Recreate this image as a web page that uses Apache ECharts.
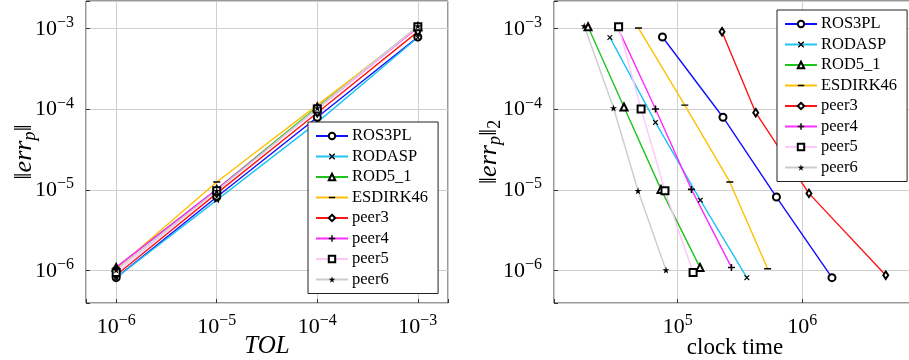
<!DOCTYPE html>
<html><head><meta charset="utf-8">
<script src="https://cdn.jsdelivr.net/npm/echarts@6/dist/echarts.min.js"></script>
<style>html,body{margin:0;padding:0;background:#fff}#c{width:909px;height:360px}</style>
</head><body><div id="c"></div>
<script>
// ---------- data ----------
const seriesNames = ['ROS3PL', 'RODASP', 'ROD5_1', 'ESDIRK46', 'peer3', 'peer4', 'peer5', 'peer6'];
const tolValues = [1e-6, 1e-5, 1e-4, 1e-3];

const errROS3PL   = [8.2e-7, 8.2e-6, 8.0e-5, 7.9e-4];
const errRODASP   = [8.2e-7, 7.5e-6, 6.9e-5, 7.8e-4];
const errROD5_1   = [1.1e-6, 1.02e-5, 1.07e-4, 1.06e-3];
const errESDIRK46 = [1.06e-6, 1.26e-5, 1.13e-4, 1.02e-3];
const errPeer3    = [8.8e-7, 9.1e-6, 9.1e-5, 9.2e-4];
const errPeer4    = [1.1e-6, 1.02e-5, 1.01e-4, 1.04e-3];
const errPeer5    = [9.5e-7, 9.8e-6, 1.01e-4, 1.06e-3];
const errPeer6    = [1.02e-6, 9.8e-6, 1.04e-4, 1.08e-3];

const timeROS3PL   = [1.73e6, 6.2e5, 2.31e5, 7.55e4];
const timeRODASP   = [3.59e5, 1.52e5, 6.64e4, 2.86e4];
const timeROD5_1   = [1.51e5, 7.35e4, 3.71e4, 1.91e4];
const timeESDIRK46 = [5.27e5, 2.62e5, 1.14e5, 4.85e4];
const timePeer3    = [4.67e6, 1.13e6, 4.23e5, 2.27e5];
const timePeer4    = [2.70e5, 1.29e5, 6.64e4, 3.30e4];
const timePeer5    = [1.33e5, 7.91e4, 5.09e4, 3.36e4];
const timePeer6    = [8.06e4, 4.81e4, 3.06e4, 1.78e4];

const tolTickExps   = [-6, -5, -4, -3];
const errTickExps   = [-6, -5, -4, -3];
const clockTickExps = [5, 6];

const errs  = [errROS3PL, errRODASP, errROD5_1, errESDIRK46, errPeer3, errPeer4, errPeer5, errPeer6];
const times = [timeROS3PL, timeRODASP, timeROD5_1, timeESDIRK46, timePeer3, timePeer4, timePeer5, timePeer6];

// ---------- styles ----------
const lineColors = ['#0f0fff', '#1ec4f2', '#1ec41e', '#ffc000', '#ff1414', '#ff2cff', '#ffc8f8', '#cccccc'];
const P_X = 'path://M0,1.5L1.5,0L5,3.5L8.5,0L10,1.5L6.5,5L10,8.5L8.5,10L5,6.5L1.5,10L0,8.5L3.5,5Z';
const P_PLUS = 'path://M3.9,0H6.1V3.9H10V6.1H6.1V10H3.9V6.1H0V3.9H3.9Z';
const P_DASH = 'path://M0,0h0.01v0.01h-0.01z M0,4h10v2h-10z M9.99,9.99h0.01v0.01h-0.01z';
const P_STAR = 'path://M5,0L6.123,3.455L9.755,3.455L6.816,5.59L7.939,9.045L5,6.91L2.061,9.045L3.184,5.59L0.245,3.455L3.877,3.455Z';
const symbols = [
  {s: 'emptyCircle', size: 7, empty: true},
  {s: P_X, size: 5.5, empty: false},
  {s: 'emptyTriangle', size: 7, empty: true},
  {s: P_DASH, size: 7, empty: false},
  {s: 'emptyDiamond', size: [5, 7.5], empty: true},
  {s: P_PLUS, size: 7, empty: false},
  {s: 'emptyRect', size: 7, empty: true},
  {s: P_STAR, size: 7, empty: false}
];

const FF = 'Liberation Serif';
function expLabel(allowed) {
  return function (v) {
    const l = Math.log10(v);
    const e = Math.round(l);
    if (Math.abs(l - e) > 0.01 || allowed.indexOf(e) < 0) return '';
    return '{b|10}{e|' + (e < 0 ? '\u2212' + (-e) : e) + '}';
  };
}
const tickRich = {
  b: {fontSize: 22, fontFamily: FF, color: '#000', lineHeight: 28},
  e: {fontSize: 16, fontFamily: FF, color: '#000', lineHeight: 16, verticalAlign: 'top'}
};
const nameRich = {
  a: {fontSize: 26, fontFamily: FF, color: '#000', lineHeight: 30},
  i: {fontSize: 26, fontFamily: FF, fontStyle: 'italic', color: '#000', lineHeight: 30},
  s: {fontSize: 18, fontFamily: FF, fontStyle: 'italic', color: '#000', lineHeight: 18, verticalAlign: 'bottom'},
  n: {fontSize: 18, fontFamily: FF, color: '#000', lineHeight: 18, verticalAlign: 'bottom'}
};

function logAxis(gridIndex, lo, hi, allowed, extra) {
  return Object.assign({
    type: 'log', logBase: 10, gridIndex: gridIndex,
    min: Math.pow(10, lo), max: Math.pow(10, hi),
    axisLine: {show: false},
    axisTick: {show: true, inside: true, length: 4, lineStyle: {color: '#333'}},
    minorTick: {show: false},
    splitLine: {show: true, lineStyle: {color: '#cfcfcf', width: 1}},
    nameLocation: 'middle',
    nameMoveOverlap: false
  }, extra);
}

const series = [];
for (let k = 0; k < seriesNames.length; k++) {
  const sym = symbols[k];
  const common = {
    type: 'line', name: seriesNames[k],
    symbol: sym.s, symbolSize: sym.size, showAllSymbol: true,
    lineStyle: {color: lineColors[k], width: 1.4},
    itemStyle: sym.empty ? {color: '#000', borderColor: '#000', borderWidth: 1.2} : {color: '#000', borderWidth: 0},
    emphasis: {disabled: true},
    animation: false
  };
  series.push(Object.assign({}, common, {xAxisIndex: 0, yAxisIndex: 0,
    data: tolValues.map((t, i) => [t, errs[k][i]])}));
  series.push(Object.assign({}, common, {xAxisIndex: 1, yAxisIndex: 1,
    data: times[k].map((t, i) => [t, errs[k][i]])}));
}

function legend(left, top) {
  return {
    data: seriesNames, orient: 'vertical', left: left, top: top,
    padding: [5.5, 10, 5.5, 7], itemWidth: 32, itemHeight: 8, itemGap: 3.5,
    backgroundColor: '#fff', borderColor: '#222', borderWidth: 1,
    selectedMode: false,
    textStyle: {fontFamily: FF, fontSize: 16.5, color: '#000', padding: [0, 0, 0, -1]}
  };
}

const option = {
  backgroundColor: '#fff',
  animation: false,
  grid: [
    {left: 86, right: 461, top: 1, bottom: 57, show: true, borderColor: '#333', borderWidth: 1,
     backgroundColor: 'transparent', containLabel: false, outerBoundsMode: 'none'},
    {left: 554, right: -7, top: 1, bottom: 57, show: true, borderColor: '#333', borderWidth: 1,
     backgroundColor: 'transparent', containLabel: false, outerBoundsMode: 'none'}
  ],
  xAxis: [
    logAxis(0, -6.3, -2.7, tolTickExps, {name: 'TOL', nameGap: 31,
      nameTextStyle: {fontFamily: FF, fontSize: 25, fontStyle: 'italic', color: '#000'},
      axisLabel: {formatter: expLabel(tolTickExps), rich: tickRich, margin: 10}}),
    logAxis(1, 4.008, 6.912, clockTickExps, {name: 'clock time', nameGap: 33,
      nameTextStyle: {fontFamily: FF, fontSize: 23, color: '#000'},
      axisLabel: {formatter: expLabel(clockTickExps), rich: tickRich, margin: 10}})
  ],
  yAxis: [
    logAxis(0, -6.4, -2.656, errTickExps, {name: '{a|\u2016}{i|err}{s|p}{a|\u2016}', nameGap: 47, nameRotate: 90,
      nameTextStyle: {rich: nameRich}, axisLabel: {formatter: expLabel(errTickExps), rich: tickRich, margin: 12}}),
    logAxis(1, -6.4, -2.656, errTickExps, {name: '{a|\u2016}{i|err}{s|p}{a|\u2016}{n|2}', nameGap: 50, nameRotate: 90,
      nameTextStyle: {rich: nameRich}, axisLabel: {formatter: expLabel(errTickExps), rich: tickRich, margin: 12}})
  ],
  legend: [legend(308, 122), legend(777, 10)],
  series: series
};

const chart = echarts.init(document.getElementById('c'), null, {renderer: 'canvas'});
chart.setOption(option);
</script>
</body></html>
